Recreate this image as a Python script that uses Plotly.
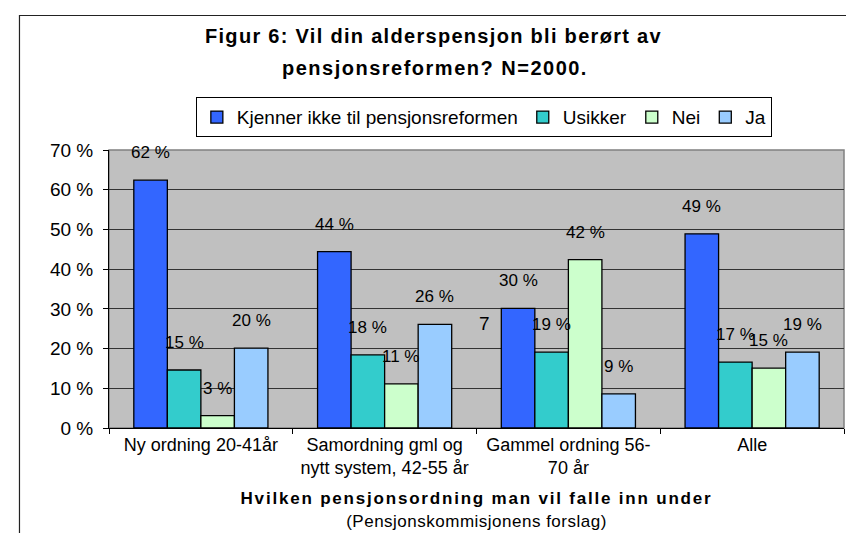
import plotly.graph_objects as go

# --- Data ---
categories = [
    "Ny ordning 20-41år",
    "Samordning gml og<br>nytt system, 42-55 år",
    "Gammel ordning 56-<br>70 år",
    "Alle",
]
series_names = ["Kjenner ikke til pensjonsreformen", "Usikker", "Nei", "Ja"]
kjenner = [62.4, 44.4, 30.1, 48.9]
usikker = [14.6, 18.4, 19.1, 16.6]
nei = [3.1, 11.1, 42.4, 15.1]
ja = [20.1, 26.1, 8.6, 19.1]
y_ticks = [0, 10, 20, 30, 40, 50, 60, 70]

series_values = [kjenner, usikker, nei, ja]
series_colors = ["#3366FF", "#33CCCC", "#CCFFCC", "#99CCFF"]

FONT = "Liberation Sans, Arial, sans-serif"
BARGAP = 0.27

fig = go.Figure()
for name, vals, col in zip(series_names, series_values, series_colors):
    fig.add_trace(go.Bar(
        name=name,
        x=categories,
        y=vals,
        marker=dict(color=col, line=dict(color="black", width=1.3)),
        hoverinfo="skip",
    ))

# --- Data labels above each bar ---
annotations = []
n = len(series_values)
bar_w = (1 - BARGAP) / n
for j, vals in enumerate(series_values):
    off = -(1 - BARGAP) / 2 + (j + 0.5) * bar_w
    for i, v in enumerate(vals):
        annotations.append(dict(
            x=i + off, y=v, xref="x", yref="y",
            text=f"{round(v)} %", showarrow=False,
            yanchor="bottom", yshift=16,
            font=dict(family=FONT, size=17, color="black"),
        ))

# --- Title (two lines, letter-spaced) ---
annotations.append(dict(
    x=0.441, y=1.41, xref="paper", yref="paper", showarrow=False,
    text='<span style="letter-spacing:1.3px"><b>Figur 6: Vil din alderspensjon bli berørt av</b></span>',
    font=dict(family=FONT, size=20, color="black"), yanchor="middle",
))
annotations.append(dict(
    x=0.443, y=1.295, xref="paper", yref="paper", showarrow=False,
    text='<span style="letter-spacing:1.5px"><b>pensjonsreformen? N=2000.</b></span>',
    font=dict(family=FONT, size=20, color="black"), yanchor="middle",
))
# stray character in the source chart
annotations.append(dict(
    x=0.511, y=0.331, xref="paper", yref="paper", showarrow=False,
    text="7", font=dict(family=FONT, size=19, color="black"),
))

shapes = [
    # outer chart border
    dict(type="rect", xref="paper", yref="paper",
         x0=-0.1218, x1=1.0224, y0=-0.45, y1=1.4838,
         line=dict(color="#222222", width=1.2), fillcolor="rgba(0,0,0,0)"),
    # grey plot-area frame
    dict(type="rect", xref="paper", yref="paper", x0=0, x1=1, y0=0, y1=1,
         line=dict(color="#808080", width=1.5), layer="below"),
]

fig.update_layout(
    width=854,
    height=533,
    barmode="group",
    bargap=BARGAP,
    bargroupgap=0,
    paper_bgcolor="white",
    plot_bgcolor="#C0C0C0",
    margin=dict(l=101, r=18, t=142, b=113),
    font=dict(family=FONT, color="black"),
    annotations=annotations,
    shapes=shapes,
    legend=dict(
        orientation="h",
        x=0.51, y=1.118, xanchor="center", yanchor="middle",
        bgcolor="white", bordercolor="black", borderwidth=1,
        font=dict(family=FONT, size=19, color="black"),
        itemclick=False,
    ),
    xaxis=dict(
        showline=True, linecolor="black", linewidth=1,
        ticks="outside", ticklen=5, tickcolor="black", tickson="boundaries",
        tickfont=dict(family=FONT, size=18, color="black"),
        showgrid=False,
        title=dict(
            text='<span style="letter-spacing:1.8px"><b>Hvilken pensjonsordning man vil falle inn under</b></span><br>'
                 '<span style="letter-spacing:0.5px">(Pensjonskommisjonens forslag)</span>',
            font=dict(family=FONT, size=17, color="black"),
            standoff=15,
        ),
    ),
    yaxis=dict(
        range=[0, 70],
        tickvals=y_ticks,
        ticktext=[f"{t} %" for t in y_ticks],
        showline=True, linecolor="black", linewidth=1,
        ticks="outside", ticklen=5, tickcolor="black",
        tickfont=dict(family=FONT, size=19, color="black"),
        showgrid=True, gridcolor="#333333", gridwidth=1,
        zeroline=False,
        ticklabelstandoff=6,
    ),
)

fig.write_html("out.html")
